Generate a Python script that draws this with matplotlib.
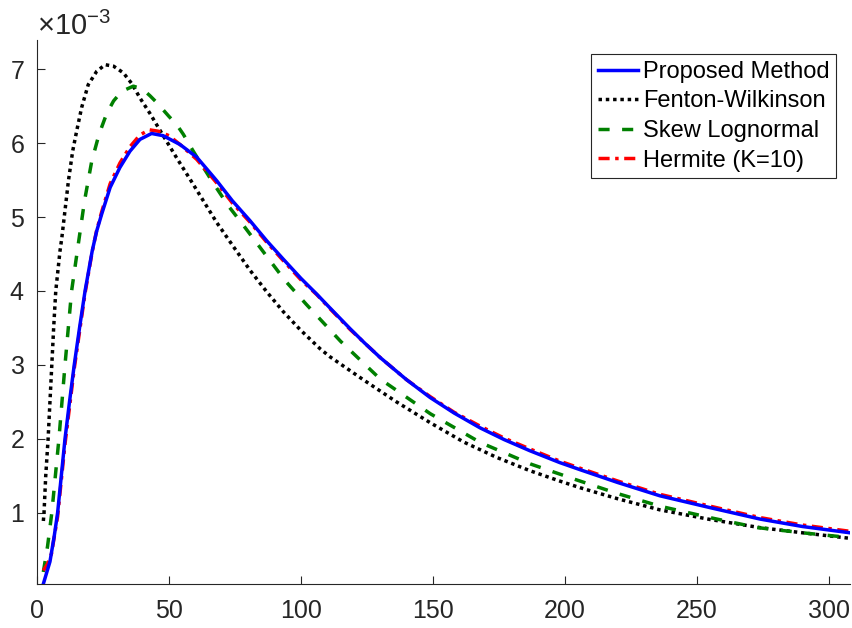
import matplotlib
matplotlib.use("Agg")
import matplotlib.pyplot as plt
from matplotlib.ticker import ScalarFormatter

plt.rcParams["font.family"] = ["Liberation Sans", "DejaVu Sans"]
plt.rcParams["mathtext.fontset"] = "custom"
plt.rcParams["mathtext.rm"] = "Liberation Sans"
plt.rcParams["mathtext.it"] = "Liberation Sans:italic"

SCALE = 1e-3  # y values below are in units of 1e-3

# Proposed Method
x_prop = [2.4, 4.9, 6.5, 7.8, 9.2, 10.6, 12.3, 14.1, 16.1, 18.2, 20.9, 22.6, 24.5,
          27.7, 31.4, 35.2, 39.0, 43.4, 47.8, 54.2, 60.5, 65.5, 68.1, 74.0, 80.7,
          87.0, 93.3, 100, 105.9, 111, 118.6, 124, 130, 140, 148.9, 158, 167.8,
          177, 186.7, 198, 206, 220, 236, 255, 274, 290, 308]
y_prop = [0.04, 0.34, 0.68, 1.00, 1.50, 2.00, 2.50, 3.00, 3.50, 4.00, 4.54, 4.81, 5.04,
          5.40, 5.67, 5.89, 6.05, 6.13, 6.10, 5.98, 5.81, 5.60, 5.49, 5.22, 4.95,
          4.68, 4.43, 4.17, 3.96, 3.77, 3.49, 3.30, 3.10, 2.80, 2.56, 2.35, 2.15,
          1.99, 1.84, 1.68, 1.58, 1.41, 1.23, 1.07, 0.915, 0.815, 0.73]

# Fenton-Wilkinson
x_fw = [2.4, 2.65, 3.3, 4.2, 4.9, 5.6, 6.3, 7.1, 8.7, 9.4, 11.9, 13.5, 15, 16.9,
        19.4, 22.6, 25.8, 29, 32.7, 36, 39, 42.8, 45.3, 49, 52.9, 58, 63, 68,
        74.4, 80.7, 87, 93.3, 99.6, 107.2, 111, 123.6, 136.2, 148.9, 161.5,
        174.1, 186.7, 198, 205.7, 220, 236, 255, 273.9, 290, 308]
y_fw = [0.89, 1.0, 1.5, 2.0, 2.5, 3.0, 3.5, 4.0, 4.54, 4.72, 5.49, 5.89, 6.16, 6.48,
        6.79, 6.97, 7.06, 7.04, 6.95, 6.80, 6.61, 6.40, 6.25, 6.03, 5.80, 5.51, 5.22, 4.93,
        4.60, 4.28, 3.99, 3.72, 3.48, 3.22, 3.11, 2.80, 2.50, 2.22, 1.96,
        1.75, 1.57, 1.43, 1.34, 1.19, 1.04, 0.91, 0.80, 0.73, 0.655]

# Skew Lognormal
x_sl = [2.4, 4.0, 5.6, 8.3, 10.6, 13.1, 15.5, 18, 20.7, 23.5, 26.4, 29, 32.1, 36.5,
        40, 42.8, 45.3, 50, 52.9, 55.4, 59.2, 66.2, 72.5, 77.5, 87, 94, 102, 115,
        130, 149, 168, 187, 204, 220, 236, 255, 273, 290, 308]
y_sl = [0.2, 0.55, 1.00, 2.00, 3.00, 4.00, 4.6, 5.22, 5.75, 6.12, 6.40, 6.57, 6.70, 6.77,
        6.73, 6.64, 6.55, 6.36, 6.25, 6.12, 5.89, 5.49, 5.15, 4.92, 4.47, 4.14, 3.82, 3.32,
        2.81, 2.34, 1.95, 1.66, 1.45, 1.26, 1.09, 0.935, 0.80, 0.73, 0.665]

# Hermite (K=10)
x_her = [2.4, 4.0, 5.5, 7.8, 10.6, 14.1, 18.2, 20.9, 22.6, 24.5, 27.7, 31.4, 35.2,
         39.0, 42.5, 46, 50, 54.2, 60.5, 65.5, 68.1, 74, 80.7, 87, 93.3, 100, 106,
         111, 118.6, 124, 130, 140, 149, 158, 168, 177, 187, 198, 206, 220, 236,
         255, 274, 290, 308]
y_her = [0.22, 0.31, 0.45, 0.95, 1.93, 2.95, 3.97, 4.53, 4.82, 5.07, 5.45, 5.73, 5.95,
         6.11, 6.18, 6.16, 6.10, 5.98, 5.78, 5.57, 5.46, 5.19, 4.93, 4.66, 4.41, 4.15, 3.95,
         3.76, 3.48, 3.30, 3.10, 2.80, 2.57, 2.36, 2.17, 2.01, 1.86, 1.70, 1.60, 1.43, 1.25,
         1.09, 0.935, 0.835, 0.75]

labels = ["Proposed Method", "Fenton-Wilkinson", "Skew Lognormal", "Hermite (K=10)"]

fig = plt.figure(figsize=(8.53, 6.28), dpi=100)
ax = fig.add_axes([0.0434, 0.070, 0.9531, 0.867])

lw = 2.5
h_prop, = ax.plot(x_prop, [v * SCALE for v in y_prop], color=(0, 0, 1), lw=lw, zorder=5)
h_fw, = ax.plot(x_fw, [v * SCALE for v in y_fw], color="k", lw=lw,
                linestyle=(0, (1, 1.1)), zorder=3)
h_sl, = ax.plot(x_sl, [v * SCALE for v in y_sl], color=(0, 0.5, 0), lw=lw,
                linestyle=(0, (3.2, 3.6)), zorder=3)
h_her, = ax.plot(x_her, [v * SCALE for v in y_her], color=(1, 0, 0), lw=lw,
                 linestyle=(0, (3.2, 1.6, 1, 1.6)), zorder=4)

ax.set_xlim(0, 308)
ax.set_ylim(0.037e-3, 7.40e-3)
ax.set_xticks([0, 50, 100, 150, 200, 250, 300])
ax.set_yticks([v * SCALE for v in [1, 2, 3, 4, 5, 6, 7]])

fmt = ScalarFormatter(useMathText=True)
fmt.set_powerlimits((-2, 2))
ax.yaxis.set_major_formatter(fmt)
ax.yaxis.get_offset_text().set_fontsize(21)
ax.yaxis.get_offset_text().set_color("#262626")

axis_col = "#262626"
for side in ["top", "right"]:
    ax.spines[side].set_visible(False)
for side in ["left", "bottom"]:
    ax.spines[side].set_color(axis_col)
    ax.spines[side].set_linewidth(0.8)
ax.tick_params(direction="in", length=6, width=0.8, colors=axis_col, labelsize=18)
ax.tick_params(axis="x", pad=11)
ax.tick_params(axis="y", pad=9)

leg = ax.legend([h_prop, h_fw, h_sl, h_her], labels, loc="upper right",
                bbox_to_anchor=(0.983, 0.973), fontsize=17, frameon=True,
                fancybox=False, framealpha=1, edgecolor="#262626",
                handlelength=1.7, handletextpad=0.2, labelspacing=0.32,
                borderpad=0.28, borderaxespad=0)
leg.get_frame().set_linewidth(0.8)

fig.savefig("out.png", dpi=100)
